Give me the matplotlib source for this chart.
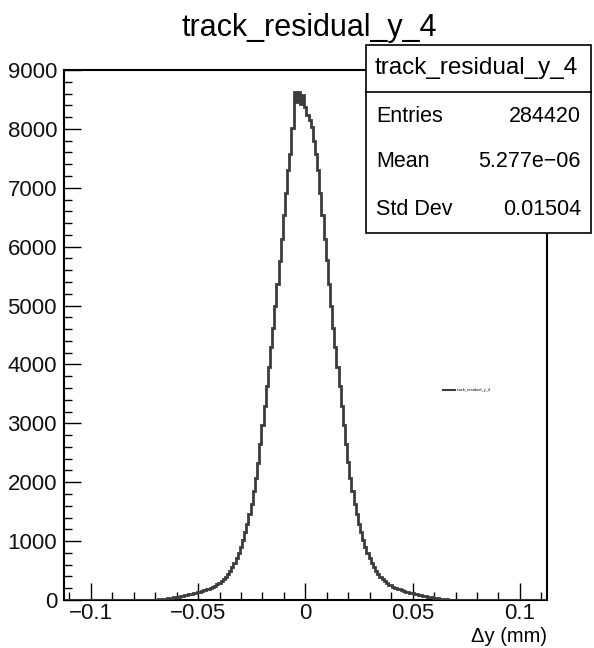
import numpy as np
import matplotlib
matplotlib.use("Agg")
import matplotlib.pyplot as plt
from matplotlib.patches import Rectangle
from matplotlib.lines import Line2D
from matplotlib.ticker import MultipleLocator

plt.rcParams['font.family'] = ['Liberation Sans', 'DejaVu Sans']

# ---- data ----
title = "track_residual_y_4"
x_label = "\u0394y (mm)"
hist_range = (-0.1125, 0.1125)
bin_width = 0.001
# counts for bins centred at -0.075 ... +0.075 (step 0.001)
core_counts = [
    0, 1, 1, 2, 3, 5, 7, 10, 13, 18, 21, 28, 32, 40, 44, 53,
    58, 67, 73, 83, 89, 99, 106, 117, 125, 136, 144, 157, 167, 182,
    194, 211, 225, 246, 264, 292, 318, 357, 393, 442, 498, 563, 628, 712,
    798, 903, 1018, 1153, 1297, 1462, 1638, 1853, 2078, 2334, 2646, 2972,
    3296, 3634, 3955, 4294, 4616, 4985, 5366, 5764, 6137, 6534, 6918,
    7300, 7580, 8020,
    8630, 8450, 8620, 8420, 8570, 8380, 8230, 8150, 8030, 7800,
    7570, 7310, 6915, 6536, 6132, 5768, 5364, 4987, 4612, 4296, 3952,
    3638, 3294, 2975, 2644, 2336, 2075, 1856, 1636, 1464, 1296, 1155,
    1016, 904, 796, 714, 626, 563, 497, 443, 392, 358, 316, 293, 262,
    247, 223, 212, 193, 183, 166, 158, 143, 137, 124, 118, 105, 99,
    88, 84, 72, 67, 57, 53, 43, 40, 31, 28, 20, 18, 12, 10, 6, 5, 3,
    2, 1, 1, 1, 0, 0,
]
stat_entries = "284420"
stat_mean = "5.277e\u221206"
stat_std = "0.01504"
x_ticks = [-0.1, -0.05, 0, 0.05, 0.1]
x_tick_labels = ["\u22120.1", "\u22120.05", "0", "0.05", "0.1"]
y_ticks = [0, 1000, 2000, 3000, 4000, 5000, 6000, 7000, 8000, 9000]

# ---- build full histogram ----
n_bins = int(round((hist_range[1] - hist_range[0]) / bin_width))
edges = np.linspace(hist_range[0], hist_range[1], n_bins + 1)
counts = np.zeros(n_bins)
centers = 0.5 * (edges[:-1] + edges[1:])
core = np.array(core_counts, dtype=float)
half = (len(core) - 1) // 2
start = int(np.argmin(np.abs(centers - (-half * bin_width))))
counts[start:start + len(core)] = core

W, H = 594, 648
fig = plt.figure(figsize=(W / 100, H / 100), dpi=100)
L, R, T, B = 64, 546.7, 70, 600
ax = fig.add_axes([L / W, 1 - B / H, (R - L) / W, (B - T) / H])

line_col = "#3c3c3c"
ax.stairs(counts, edges, color=line_col, linewidth=2.0, zorder=3)
ax.set_xlim(*hist_range)
ax.set_ylim(0, 9000)

ax.set_xticks(x_ticks)
ax.set_xticklabels(x_tick_labels)
ax.set_yticks(y_ticks)
ax.set_yticklabels([str(v) for v in y_ticks])
ax.xaxis.set_minor_locator(MultipleLocator(0.01))
ax.yaxis.set_minor_locator(MultipleLocator(200))
ax.tick_params(which='both', direction='in', top=False, right=False,
               labelsize=16, color='black', width=1.0, labelcolor='#111111')
ax.tick_params(which='major', length=12)
ax.tick_params(which='minor', length=6)
ax.tick_params(axis='x', pad=2)
ax.tick_params(axis='y', pad=5)
for s in ax.spines.values():
    s.set_linewidth(1.5)

fig.text(R / W, 1 - 636 / H, x_label, ha='right', va='center', fontsize=14.5)
fig.text(309 / W, 1 - 28 / H, title, ha='center', va='center', fontsize=22)

# legend (tiny, inside axes)
fig.add_artist(Line2D([443 / W, 455 / W], [1 - 390 / H, 1 - 390 / H],
                      color=line_col, linewidth=1.5))
fig.text(457 / W, 1 - 390 / H, title, ha='left', va='center', fontsize=3)

# stats box
bx0, bx1, by0, by1, bsep = 366, 591, 45, 232.7, 92.3
fig.add_artist(Rectangle((bx0 / W, 1 - by1 / H), (bx1 - bx0) / W, (by1 - by0) / H,
                         facecolor='white', edgecolor='black', linewidth=1.2,
                         zorder=10))
fig.add_artist(Line2D([bx0 / W, bx1 / W], [1 - bsep / H, 1 - bsep / H],
                      color='black', linewidth=1.2, zorder=11))
fig.text(375 / W, 1 - 68.3 / H, title, ha='left', va='center', fontsize=17.5, zorder=12)
rows = [("Entries", stat_entries, 116.7), ("Mean", stat_mean, 161.7),
        ("Std Dev", stat_std, 209.3)]
for name, val, yy in rows:
    fig.text(376 / W, 1 - yy / H, name, ha='left', va='center', fontsize=15.5, zorder=12)
    fig.text(581 / W, 1 - yy / H, val, ha='right', va='center', fontsize=15.5, zorder=12)

fig.savefig("out.png", dpi=100)
